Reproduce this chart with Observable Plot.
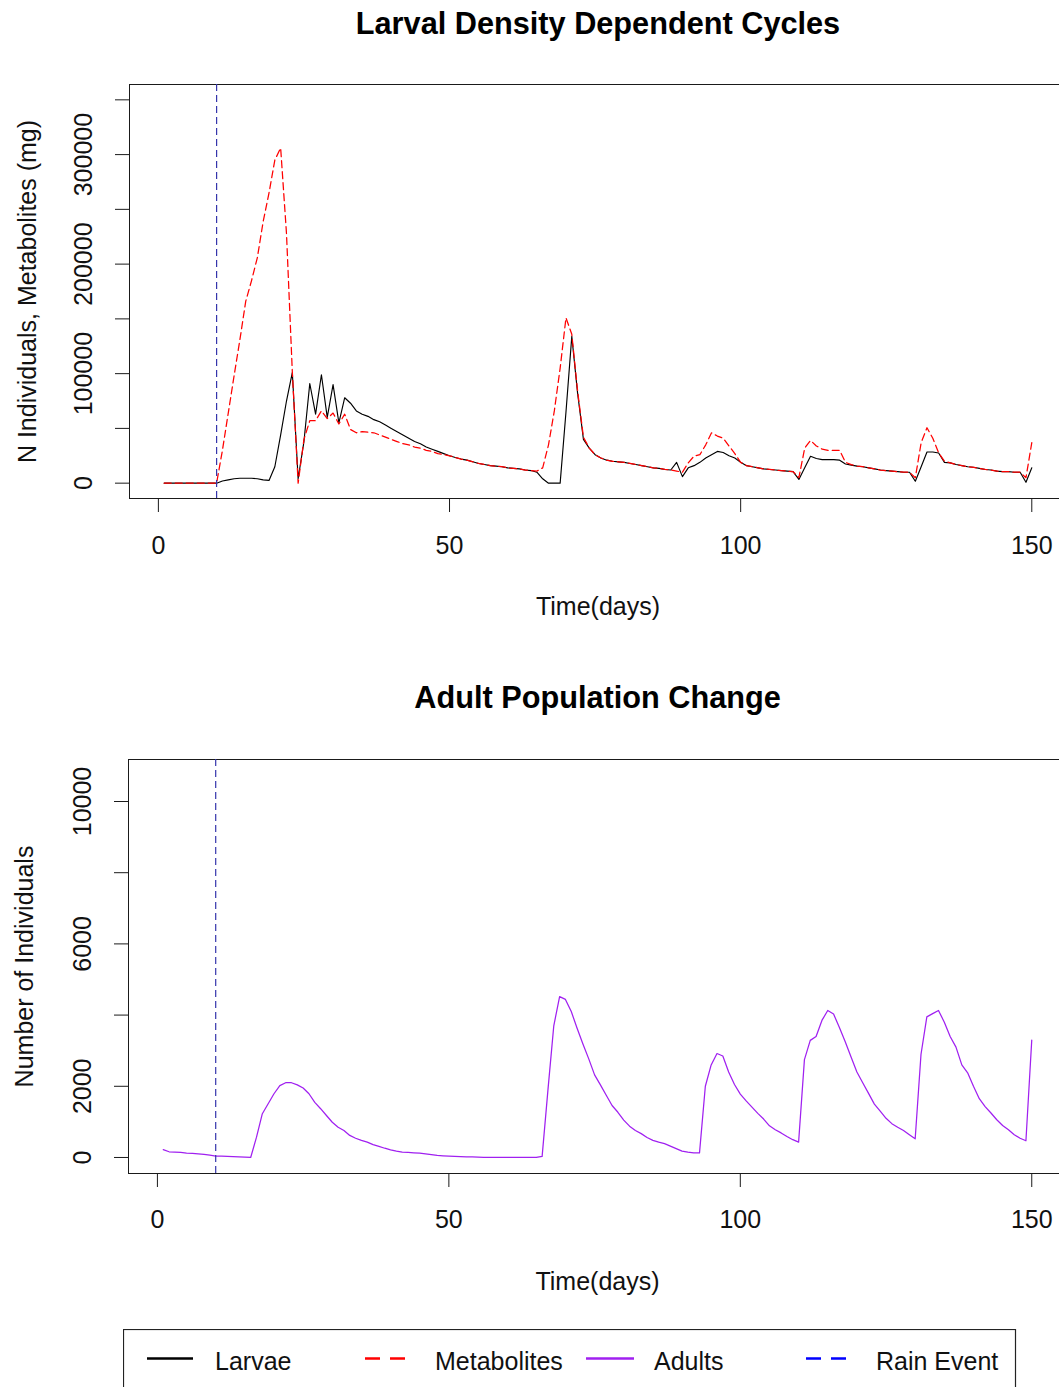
<!DOCTYPE html>
<html><head><meta charset="utf-8">
<script src="https://cdn.jsdelivr.net/npm/d3@7"></script>
<script src="https://cdn.jsdelivr.net/npm/@observablehq/plot@0.6"></script>
<style>
html,body{margin:0;padding:0;background:#fff;width:1059px;height:1387px;overflow:hidden;}
#wrap{position:relative;width:1059px;height:1387px;overflow:hidden;background:#fff;font-family:"Liberation Sans",Arial,sans-serif;}
.panel{position:absolute;left:0;width:1066px;}
.panel svg{max-width:none !important;}
#legend{position:absolute;left:123px;top:1329px;}
</style></head><body>
<div id="wrap">
  <div id="p1" class="panel" style="top:0px"></div>
  <div id="p2" class="panel" style="top:650px"></div>
  <div id="legend"></div>
</div>
<script>
// ---- data (day 1..150) ----
const larvae = [
  0,0,0,0,0,0,0,0,0,0,
  2000,3000,4000,4500,4500,4500,4000,3000,2500,15000,
  44000,75000,101000,4000,38000,91000,63000,99000,60000,90000,
  55000,78000,73000,66000,63000,61000,58000,56000,53000,50000,
  47000,44000,41000,38000,36000,33000,31000,29000,27000,25000,
  23500,22000,21000,19500,18000,17000,16000,15500,15000,14000,
  13500,13000,12000,11500,10000,4000,0,0,0,65000,
  134000,82000,40000,32000,26000,23000,21000,20000,19500,19000,
  18000,17000,16000,15000,14000,13500,12500,12000,19000,6000,
  14000,16000,19000,23000,26000,29000,28000,25000,23000,19000,
  16000,15000,14000,13000,12500,12000,11500,11000,10500,3400,
  14000,24500,22500,21500,21500,21500,21000,17500,16500,15500,
  15000,14000,13000,12000,11500,11000,10500,10000,10000,1800,
  15000,28500,28500,27500,19000,18500,17000,16000,15000,14500,
  13500,12500,12000,11000,10500,10500,10000,10000,800,14000
];
const metabolites = [
  0,0,0,0,0,0,0,0,0,0,
  30000,64000,98000,131000,166000,185000,206000,239000,265000,295000,
  306000,228000,102000,0,40000,57000,57000,66000,59000,64000,
  54000,63000,49000,46000,47000,46500,46000,44000,42000,40000,
  38000,36000,35000,33000,32000,30000,29000,27000,26000,25000,
  23500,22000,21000,19500,18000,17000,16000,15500,15000,14000,
  13500,13000,12000,11500,11000,14000,35000,66000,105000,151000,
  136000,84000,42000,32000,26000,23000,21000,20000,19500,19000,
  18000,17000,16000,15000,14000,13500,12500,12000,11000,10000,
  18600,24700,26000,35000,46000,43000,41000,34000,27000,19000,
  16000,15000,14000,13000,12500,12000,11500,11000,10500,5000,
  32000,39000,34000,31000,30000,30000,30000,19000,17000,15500,
  15000,14000,13000,12000,11500,11000,10500,10000,10000,5000,
  37000,50600,41000,27700,20000,18600,17000,16000,15000,14500,
  13500,12500,12000,11000,10500,10500,10000,10000,5000,37000
];
const adults = [
  220,160,150,140,125,115,100,85,65,40,
  35,30,25,20,10,0,570,1230,1510,1790,
  2020,2100,2100,2040,1950,1790,1550,1370,1180,990,
  850,760,620,540,480,430,360,310,260,215,
  180,150,140,130,120,100,80,56,45,37,
  30,25,20,15,9,0,0,0,0,0,
  0,0,0,0,0,30,1900,3700,4520,4440,
  4100,3630,3190,2770,2320,2040,1750,1460,1270,1050,
  880,760,670,560,480,430,390,320,250,180,
  150,130,130,2000,2600,2920,2850,2400,2050,1780,
  1590,1414,1240,1080,890,780,690,590,500,430,
  2750,3290,3400,3850,4130,4030,3650,3250,2820,2400,
  2100,1800,1500,1300,1100,950,850,760,640,524,
  2900,3950,4040,4130,3800,3400,3100,2600,2380,2000,
  1650,1430,1250,1060,900,780,640,540,470,3300
];
const rainDay = [10];
const xTicks = [0, 50, 100, 150];
const yTicksTop = [0, 50000, 100000, 150000, 200000, 250000, 300000, 350000];
const yLabelsTop = [0, 100000, 200000, 300000];
const yTicksBottom = [0, 2000, 4000, 6000, 8000, 10000];
const yLabelsBottom = [0, 2000, 6000, 10000];
const titles = ["Larval Density Dependent Cycles", "Adult Population Change"];
const xTitle = "Time(days)";
const yTitles = ["N Individuals, Metabolites (mg)", "Number of Individuals"];
const legendItems = ["Larvae", "Metabolites", "Adults", "Rain Event"];

const FONT = "'Liberation Sans', Arial, sans-serif";
const day = (d, i) => i + 1;

function makePanel({series, yDomain, yTicks, yLabels, title, yTitle, marginTop, height, marginLeft, titleDy, tickDy, xTitleDy, yLabDx, yTitleDx}) {
  const marginBottom = height - marginTop - 414;
  const T = {textAnchor: "middle", lineAnchor: "middle", fontSize: 25, fill: "#111"};
  return Plot.plot({
    width: 1066,
    height,
    marginTop,
    marginBottom,
    marginLeft,
    marginRight: 0,
    style: {fontFamily: FONT, background: "white", overflow: "visible", color: "black", maxWidth: "none"},
    x: {domain: [-4.96, 155.96]},
    y: {domain: yDomain},
    marks: [
      Plot.frame({stroke: "#1a1a1a", strokeWidth: 1}),
      Plot.axisX({ticks: xTicks, tickSize: 14, tickFormat: () => "", label: null, stroke: "#1a1a1a"}),
      Plot.axisY({ticks: yTicks, tickSize: 14, tickFormat: () => "", label: null, stroke: "#1a1a1a"}),
      Plot.text(xTicks, {...T, x: d => d, frameAnchor: "bottom", dy: tickDy, text: d => String(d)}),
      Plot.text(yLabels, {...T, y: d => d, frameAnchor: "left", dx: yLabDx, rotate: -90, text: d => String(d)}),
      Plot.text([title], {...T, frameAnchor: "top", dy: titleDy, fontSize: 30.7, fontWeight: "bold", fill: "#000"}),
      Plot.text([xTitle], {...T, frameAnchor: "bottom", dy: xTitleDy}),
      Plot.text([yTitle], {...T, frameAnchor: "left", dx: yTitleDx, rotate: -90}),
      ...series,
      Plot.ruleX(rainDay, {x: d => d, stroke: "#3535ab", strokeWidth: 1.2, strokeDasharray: "7,4"})
    ]
  });
}

const topPlot = makePanel({
  series: [
    Plot.line(larvae, {x: day, y: d => d, stroke: "black", strokeWidth: 1.15}),
    Plot.line(metabolites, {x: day, y: d => d, stroke: "#ff0000", strokeWidth: 1.25, strokeDasharray: "7,4"})
  ],
  yDomain: [-14000, 364000], yTicks: yTicksTop, yLabels: yLabelsTop,
  title: titles[0], yTitle: yTitles[0],
  marginTop: 84, height: 640, marginLeft: 129,
  titleDy: -60, tickDy: 47, xTitleDy: 108, yLabDx: -46, yTitleDx: -102
});
document.getElementById("p1").appendChild(topPlot);

const bottomPlot = makePanel({
  series: [
    Plot.line(adults, {x: day, y: d => d, stroke: "#a020f0", strokeWidth: 1.25})
  ],
  yDomain: [-450, 11180], yTicks: yTicksBottom, yLabels: yLabelsBottom,
  title: titles[1], yTitle: yTitles[1],
  marginTop: 109, height: 650, marginLeft: 128,
  titleDy: -61, tickDy: 46, xTitleDy: 108, yLabDx: -46, yTitleDx: -104
});
document.getElementById("p2").appendChild(bottomPlot);

// ---- legend ----
const ns = "http://www.w3.org/2000/svg";
const lg = document.createElementNS(ns, "svg");
lg.setAttribute("width", 894); lg.setAttribute("height", 70);
lg.style.fontFamily = FONT;
const box = document.createElementNS(ns, "rect");
box.setAttribute("x", 0.5); box.setAttribute("y", 0.5); box.setAttribute("width", 892); box.setAttribute("height", 80);
box.setAttribute("fill", "white"); box.setAttribute("stroke", "#222"); box.setAttribute("stroke-width", 1.2);
lg.appendChild(box);
const legendStyle = [
  {stroke: "black", dash: null, x1: 24, x2: 70, tx: 92},
  {stroke: "#ff0000", dash: "15,10", x1: 242, x2: 282, tx: 312},
  {stroke: "#a020f0", dash: null, x1: 463, x2: 511, tx: 531},
  {stroke: "#0000ff", dash: "15,10", x1: 683, x2: 725, tx: 753}
];
legendItems.forEach((name, i) => {
  const s = legendStyle[i];
  const ln = document.createElementNS(ns, "line");
  ln.setAttribute("x1", s.x1); ln.setAttribute("x2", s.x2);
  ln.setAttribute("y1", 29.5); ln.setAttribute("y2", 29.5);
  ln.setAttribute("stroke", s.stroke); ln.setAttribute("stroke-width", 2.6);
  if (s.dash) ln.setAttribute("stroke-dasharray", s.dash);
  lg.appendChild(ln);
  const tx = document.createElementNS(ns, "text");
  tx.setAttribute("x", s.tx); tx.setAttribute("y", 41);
  tx.setAttribute("font-size", 25); tx.setAttribute("fill", "#111");
  tx.textContent = name;
  lg.appendChild(tx);
});
document.getElementById("legend").appendChild(lg);
</script>
</body></html>
